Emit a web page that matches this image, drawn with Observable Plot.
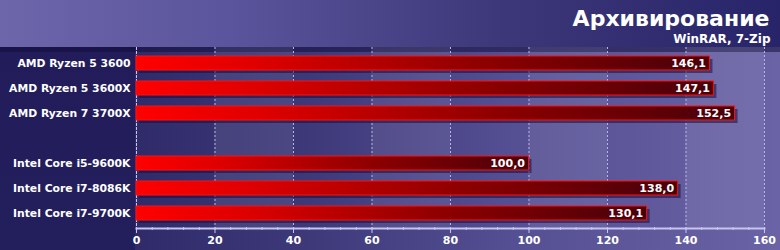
<!DOCTYPE html>
<html><head><meta charset="utf-8">
<script src="https://cdn.jsdelivr.net/npm/d3@7"></script>
<script src="https://cdn.jsdelivr.net/npm/@observablehq/plot@0.6"></script>
<style>
html,body{margin:0;padding:0;background:#231e5a;}
#chart svg{display:block;}
</style>
</head><body><div id="chart"></div>
<script>
const title = "Архивирование";
const subtitle = "WinRAR, 7-Zip";
const amdNames = ["AMD Ryzen 5 3600", "AMD Ryzen 5 3600X", "AMD Ryzen 7 3700X"];
const amdScores = [146.1, 147.1, 152.5];
const intelNames = ["Intel Core i5-9600K", "Intel Core i7-8086K", "Intel Core i7-9700K"];
const intelScores = [100.0, 138.0, 130.1];
const spacer = " ";
const xTicks = [0, 20, 40, 60, 80, 100, 120, 140, 160];
const minorTicks = [0,4,8,12,16,20,24,28,32,36,40,44,48,52,56,60,64,68,72,76,80,84,88,92,96,100,104,108,112,116,120,124,128,132,136,140,144,148,152,156,160];

const data = [
  ...amdNames.map((name, i) => ({name, value: amdScores[i]})),
  ...intelNames.map((name, i) => ({name, value: intelScores[i]}))
];
const yDomain = [...amdNames, spacer, ...intelNames];
const fmt = d => d.value.toFixed(1).replace(".", ",");
const lightBands = [];
for (let i = 1; i < xTicks.length; i += 2) lightBands.push({x1: xTicks[i], x2: xTicks[i + 1]});
const font = "DejaVu Sans";

const chart = Plot.plot({
  width: 780,
  height: 250,
  marginLeft: 136,
  marginRight: 16,
  marginTop: 47,
  marginBottom: 22,
  x: {domain: [0, 160], axis: null},
  y: {domain: yDomain, paddingInner: 0.46, paddingOuter: 0.23, axis: null},
  style: {
    fontFamily: font,
    color: "white",
    overflow: "visible",
    background: [
      "linear-gradient(rgba(18,14,58,0.55), rgba(18,14,58,0.55)) 0 47px / 100% 5px no-repeat",
      "linear-gradient(#221d5a, #231f5c) 0 47px / 135px 203px no-repeat",
      "linear-gradient(to right, #6d66ab 0%, #5a549c 30%, #3c3778 65%, #28246a 100%) 0 0 / 100% 47px no-repeat",
      "linear-gradient(to right, #2a2662 0%, #2e2a68 15%, #3e3a7a 40%, #544e92 65%, #6a64a6 100%) 0 47px / 100% 203px no-repeat"
    ].join(",")
  },
  marks: [
    Plot.rectX(lightBands, {x1: "x1", x2: "x2", fill: "#ffffff", fillOpacity: 0.08}),
    Plot.ruleX(xTicks.slice(1), {stroke: "#b8b4e4", strokeDasharray: "2,2", strokeWidth: 1}),
    Plot.ruleX([0], {stroke: "#c8c4f0", strokeDasharray: "3,1", strokeWidth: 1}),
    Plot.barX(data, {x: "value", y: "name", fill: "#140f40", fillOpacity: 0.55, dx: 3, dy: 3}),
    Plot.barX(data, {x: "value", y: "name", fill: "url(#barGrad)", stroke: "#ff1010", strokeWidth: 1}),
    Plot.text(data, {x: "value", y: "name", text: fmt, textAnchor: "end", dx: -4,
      fill: "white", fontWeight: "bold", fontSize: 11, ariaLabel: "values"}),
    Plot.axisY({tickSize: 0, tickPadding: 6, fontWeight: "bold", fontSize: 10.8, fill: "white", label: null,
      tickFormat: d => d === spacer ? "" : d}),
    Plot.axisX({ticks: minorTicks, tickSize: 3, tickFormat: () => "", stroke: "#c8c4f0", dy: -1, label: null}),
    Plot.axisX({ticks: xTicks, tickSize: 5, tickPadding: 3, fontWeight: "bold", fontSize: 11,
      fill: "white", stroke: "#c8c4f0", label: null}),
    Plot.frame({anchor: "bottom", stroke: "#c8c4f0", strokeWidth: 2}),
    Plot.text([title], {frameAnchor: "top-right", textAnchor: "end", lineAnchor: "middle",
      dx: 5, dy: -29, fill: "white", fontWeight: "bold", fontSize: 22, ariaLabel: "title"}),
    Plot.text([subtitle], {frameAnchor: "top-right", textAnchor: "end", lineAnchor: "middle",
      dx: 6, dy: -8, fill: "white", fontWeight: "bold", fontSize: 12, ariaLabel: "subtitle"})
  ]
});

d3.select(chart).insert("defs", ":first-child").html(
  '<linearGradient id="barGrad" x1="0" x2="1" y1="0" y2="0">' +
  '<stop offset="0" stop-color="#ff0000"/>' +
  '<stop offset="0.2" stop-color="#e00000"/>' +
  '<stop offset="0.6" stop-color="#8e0000"/>' +
  '<stop offset="1" stop-color="#48000a"/>' +
  '</linearGradient>' +
  '<filter id="shadowDark" x="-20%" y="-30%" width="140%" height="170%">' +
  '<feDropShadow dx="1" dy="1" stdDeviation="0" flood-color="#1a0004" flood-opacity="0.95"/></filter>' +
  '<filter id="shadowTitle" x="-10%" y="-30%" width="120%" height="170%">' +
  '<feDropShadow dx="2" dy="2" stdDeviation="0.3" flood-color="#15123e" flood-opacity="0.9"/></filter>'
);
d3.select(chart).select('g[aria-label="values"]').attr("filter", "url(#shadowDark)");
d3.select(chart).select('g[aria-label="title"]').attr("filter", "url(#shadowTitle)");
d3.select(chart).select('g[aria-label="subtitle"]').attr("filter", "url(#shadowDark)");
document.getElementById("chart").appendChild(chart);
</script>
</body></html>
